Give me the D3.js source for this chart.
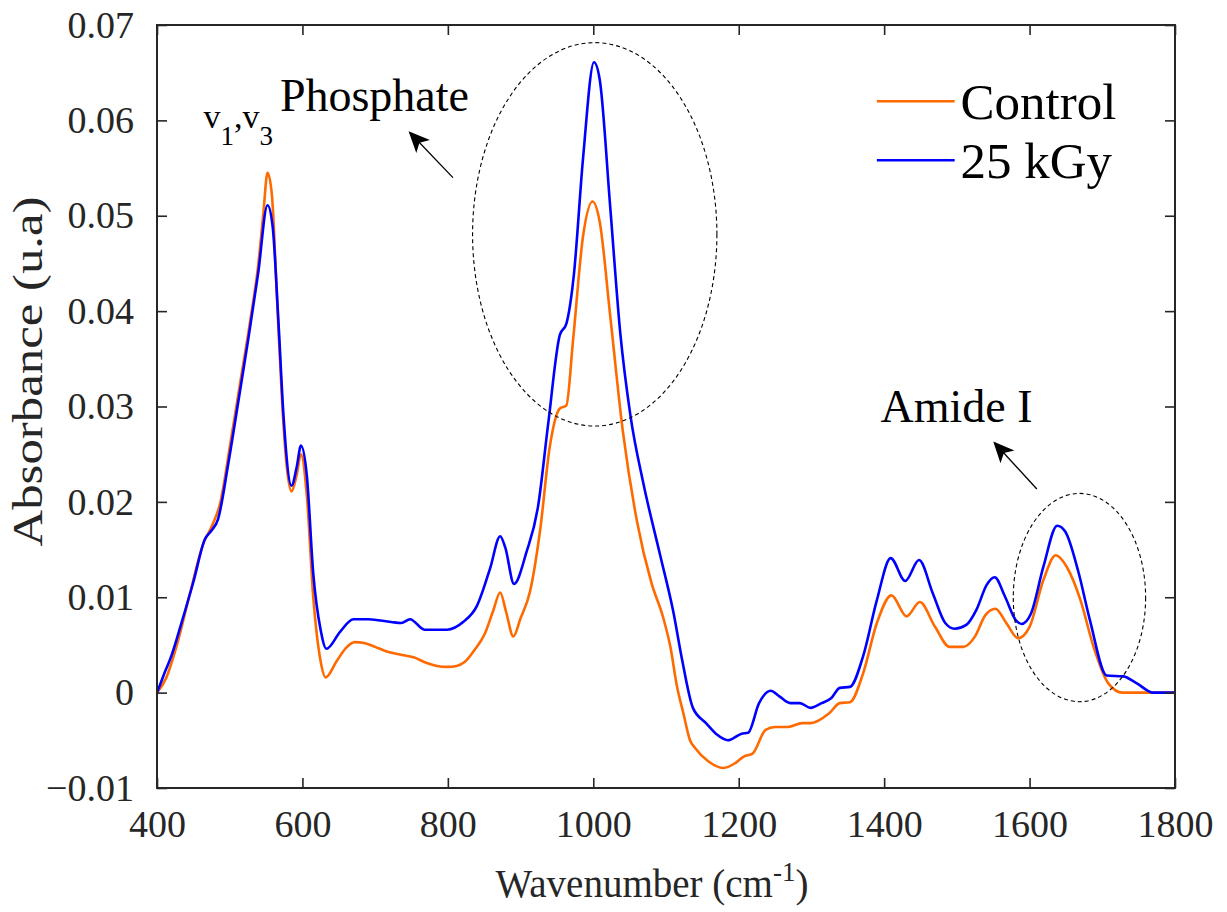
<!DOCTYPE html>
<html>
<head>
<meta charset="utf-8">
<script src="https://cdn.jsdelivr.net/npm/d3@7"></script>
<style>
  html, body { margin: 0; padding: 0; background: #fff; }
</style>
</head>
<body>
<svg id="chart" width="1227" height="912"></svg>
<script>
// spectra
const controlWn = [400, 413, 427, 445, 464, 475, 487, 500, 514, 528, 539, 546, 552, 558, 565, 572, 578, 585, 592, 598, 606, 615, 625, 632, 647, 660, 672, 685, 700, 713, 734, 753, 771, 785, 799, 812, 823, 837, 851, 862, 872, 880, 890, 900, 913, 927, 940, 954, 963, 972, 986, 999, 1009, 1023, 1041, 1060, 1080, 1096, 1106, 1115, 1124, 1133, 1140, 1158, 1179, 1195, 1207, 1219, 1237, 1250, 1268, 1287, 1299, 1324, 1339, 1353, 1371, 1390, 1410, 1431, 1449, 1470, 1490, 1509, 1525, 1539, 1553, 1568, 1584, 1600, 1619, 1636, 1651, 1670, 1688, 1708, 1728, 1765, 1800]
const controlAbs = [0, 0.0016, 0.0049, 0.0103, 0.0157, 0.0174, 0.0199, 0.0257, 0.0323, 0.0389, 0.0447, 0.0500, 0.0545, 0.0522, 0.0414, 0.0306, 0.0240, 0.0211, 0.0228, 0.0250, 0.0207, 0.0099, 0.0033, 0.0016, 0.0033, 0.0047, 0.0053, 0.0052, 0.0048, 0.0044, 0.0040, 0.0037, 0.0031, 0.0028, 0.0027, 0.0028, 0.0032, 0.0045, 0.0062, 0.0085, 0.0105, 0.0085, 0.0059, 0.0078, 0.0106, 0.0171, 0.0257, 0.0298, 0.0301, 0.0368, 0.0479, 0.0515, 0.0493, 0.0397, 0.0272, 0.0180, 0.0115, 0.0079, 0.0048, 0.0007, -0.0022, -0.0050, -0.0058, -0.0072, -0.0079, -0.0074, -0.0067, -0.0064, -0.0039, -0.0036, -0.0036, -0.0032, -0.0032, -0.0022, -0.0011, -0.0010, 0.0020, 0.0073, 0.0102, 0.0080, 0.0095, 0.0069, 0.0048, 0.0048, 0.0059, 0.0081, 0.0088, 0.0073, 0.0057, 0.0069, 0.0118, 0.0144, 0.0132, 0.0097, 0.0048, 0.0010, 0, 0, 0]

const irradWn = [400, 409, 420, 434, 450, 466, 475, 484, 498, 512, 526, 539, 552, 559, 567, 574, 585, 592, 598, 606, 615, 625, 633, 652, 670, 691, 722, 736, 748, 768, 799, 821, 840, 858, 872, 879, 891, 908, 924, 938, 954, 963, 973, 986, 1001, 1009, 1023, 1037, 1051, 1069, 1092, 1110, 1122, 1137, 1155, 1170, 1185, 1204, 1213, 1228, 1244, 1256, 1271, 1284, 1299, 1314, 1327, 1339, 1353, 1371, 1390, 1409, 1429, 1448, 1467, 1484, 1497, 1513, 1527, 1541, 1552, 1566, 1581, 1589, 1602, 1619, 1638, 1649, 1667, 1683, 1706, 1729, 1747, 1770, 1800]
const irradAbs = [0, 0.0018, 0.0039, 0.0074, 0.0116, 0.0161, 0.0170, 0.0182, 0.0240, 0.0306, 0.0373, 0.0439, 0.0511, 0.0489, 0.0389, 0.0290, 0.0217, 0.0236, 0.0259, 0.0228, 0.0124, 0.0066, 0.0046, 0.0064, 0.0077, 0.0077, 0.0074, 0.0073, 0.0077, 0.0066, 0.0066, 0.0074, 0.0091, 0.0130, 0.0164, 0.0152, 0.0114, 0.0147, 0.0195, 0.0282, 0.0375, 0.0387, 0.0436, 0.0561, 0.0661, 0.0642, 0.0512, 0.0378, 0.0291, 0.0219, 0.0144, 0.0085, 0.0035, -0.0016, -0.0032, -0.0044, -0.0050, -0.0043, -0.0042, -0.0011, 0.0002, -0.0004, -0.0011, -0.0011, -0.0016, -0.0011, -0.0006, 0.0005, 0.0006, 0.0038, 0.0097, 0.0141, 0.0117, 0.0139, 0.0104, 0.0073, 0.0067, 0.0071, 0.0087, 0.0113, 0.0121, 0.0101, 0.0076, 0.0072, 0.0083, 0.0132, 0.0175, 0.0169, 0.0127, 0.0076, 0.0018, 0.0017, 0.0010, 0, 0]

const seriesNames = ['Control', '25 kGy']
const seriesColors = ['#ff6a00', '#0000ff']

const xTicks = [400, 600, 800, 1000, 1200, 1400, 1600, 1800]
const yTicks = [-0.01, 0, 0.01, 0.02, 0.03, 0.04, 0.05, 0.06, 0.07]

const serif = '"Liberation Serif", "Times New Roman", Times, serif'

const svg = d3.select('#chart').style('font-family', serif)
const margin = { left: 157, top: 25, right: 52, bottom: 124 }
const width = 1227 - margin.left - margin.right
const height = 912 - margin.top - margin.bottom

const x = d3.scaleLinear().domain([400, 1800]).range([0, width])
const y = d3.scaleLinear().domain([-0.01, 0.07]).range([height, 0])

const g = svg.append('g').attr('transform', `translate(${margin.left},${margin.top})`)

// curves
const line = d3.line()
  .x(d => x(d[0]))
  .y(d => y(d[1]))
  .curve(d3.curveMonotoneX)

const series = [
  d3.zip(controlWn, controlAbs),
  d3.zip(irradWn, irradAbs)
]

series.forEach((pts, i) => {
  g.append('path')
    .datum(pts)
    .attr('d', line)
    .attr('fill', 'none')
    .attr('stroke', seriesColors[i])
    .attr('stroke-width', 2.6)
    .attr('stroke-linejoin', 'round')
})

// axes, ticks inward on all four sides
const axisColor = '#262626'
const fmtY = d => d === 0 ? '0' : d3.format('.2f')(d)

const styleAxis = sel => {
  sel.attr('font-family', null).attr('font-size', null)
  sel.select('.domain').remove()
  sel.selectAll('.tick line').attr('stroke', axisColor).attr('stroke-width', 1.6)
  sel.selectAll('.tick text')
    .attr('fill', axisColor)
    .style('font-family', serif)
    .style('font-size', '38px')
}

g.append('g')
  .attr('transform', `translate(0,${height})`)
  .call(d3.axisBottom(x).tickValues(xTicks).tickSize(-10).tickPadding(22).tickFormat(d3.format('d')))
  .call(styleAxis)

g.append('g')
  .call(d3.axisTop(x).tickValues(xTicks).tickSize(-10).tickFormat(''))
  .call(styleAxis)

g.append('g')
  .call(d3.axisLeft(y).tickValues(yTicks).tickSize(-10).tickPadding(23).tickFormat(fmtY))
  .call(styleAxis)

g.append('g')
  .attr('transform', `translate(${width},0)`)
  .call(d3.axisRight(y).tickValues(yTicks).tickSize(-10).tickFormat(''))
  .call(styleAxis)

g.append('rect')
  .attr('width', width).attr('height', height)
  .attr('fill', 'none')
  .attr('stroke', axisColor)
  .attr('stroke-width', 2)

// axis labels
const xl = svg.append('text')
  .attr('x', margin.left + width / 2 - 14)
  .attr('y', 897)
  .attr('text-anchor', 'middle')
  .style('font-family', serif)
  .style('font-size', '39px')
  .attr('fill', axisColor)
xl.append('tspan').text('Wavenumber (cm')
xl.append('tspan').text('-1').attr('dy', -16).style('font-size', '27px')
xl.append('tspan').text(')').attr('dy', 16)

svg.append('text')
  .attr('transform', `translate(42,${margin.top + y(0.03) - 35}) rotate(-90)`)
  .attr('text-anchor', 'middle')
  .attr('textLength', 350)
  .attr('lengthAdjust', 'spacingAndGlyphs')
  .style('font-family', serif)
  .style('font-size', '42px')
  .attr('fill', axisColor)
  .text('Absorbance (u.a)')

// legend
const legend = g.append('g')
seriesNames.forEach((name, i) => {
  const ly = y(0.0620) + i * 59
  legend.append('line')
    .attr('x1', x(1390)).attr('x2', x(1497))
    .attr('y1', ly).attr('y2', ly)
    .attr('stroke', seriesColors[i]).attr('stroke-width', 2.6)
  legend.append('text')
    .attr('x', x(1505)).attr('y', ly + 18)
    .style('font-family', serif)
    .style('font-size', '51px')
    .text(name)
})

// annotations
const ann = g.append('g')

const nu = ann.append('text')
  .attr('x', x(464)).attr('y', y(0.0592))
  .style('font-family', serif)
  .style('font-size', '34px')
nu.append('tspan').text('v')
nu.append('tspan').text('1').attr('dy', 17).style('font-size', '27px')
nu.append('tspan').text(',').attr('dy', -17)
nu.append('tspan').text('v')
nu.append('tspan').text('3').attr('dy', 17).style('font-size', '27px')

ann.append('text')
  .attr('x', x(569)).attr('y', y(0.0610))
  .style('font-family', serif)
  .style('font-size', '46px')
  .text('Phosphate')

ann.append('text')
  .attr('x', x(1395)).attr('y', y(0.0284))
  .style('font-family', serif)
  .style('font-size', '46px')
  .text('Amide I')

svg.append('defs').append('marker')
  .attr('id', 'head')
  .attr('viewBox', '0 0 10 10')
  .attr('refX', 9).attr('refY', 5)
  .attr('markerWidth', 21).attr('markerHeight', 21)
  .attr('markerUnits', 'userSpaceOnUse')
  .attr('orient', 'auto')
  .append('path')
  .attr('d', 'M0,0.5 L10,5 L0,9.5 L2.5,5 Z')
  .attr('fill', '#000')

const arrows = [
  { from: [807, 0.0540], to: [748, 0.0587] },
  { from: [1610, 0.02135], to: [1552, 0.02617] }
]
arrows.forEach(a => {
  ann.append('line')
    .attr('x1', x(a.from[0])).attr('y1', y(a.from[1]))
    .attr('x2', x(a.to[0])).attr('y2', y(a.to[1]))
    .attr('stroke', '#000').attr('stroke-width', 1.3)
    .attr('marker-end', 'url(#head)')
})

const ellipses = [
  { cx: 1002, cy: 0.04805, rx: 168, ry: 0.0201 },
  { cx: 1668.6, cy: 0.00997, rx: 91, ry: 0.01092 }
]
ellipses.forEach(e => {
  ann.append('ellipse')
    .attr('cx', x(e.cx)).attr('cy', y(e.cy))
    .attr('rx', x(400 + e.rx) - x(400))
    .attr('ry', y(0) - y(e.ry))
    .attr('fill', 'none')
    .attr('stroke', '#000')
    .attr('stroke-width', 1.1)
    .attr('stroke-dasharray', '4,3')
})
</script>
</body>
</html>
